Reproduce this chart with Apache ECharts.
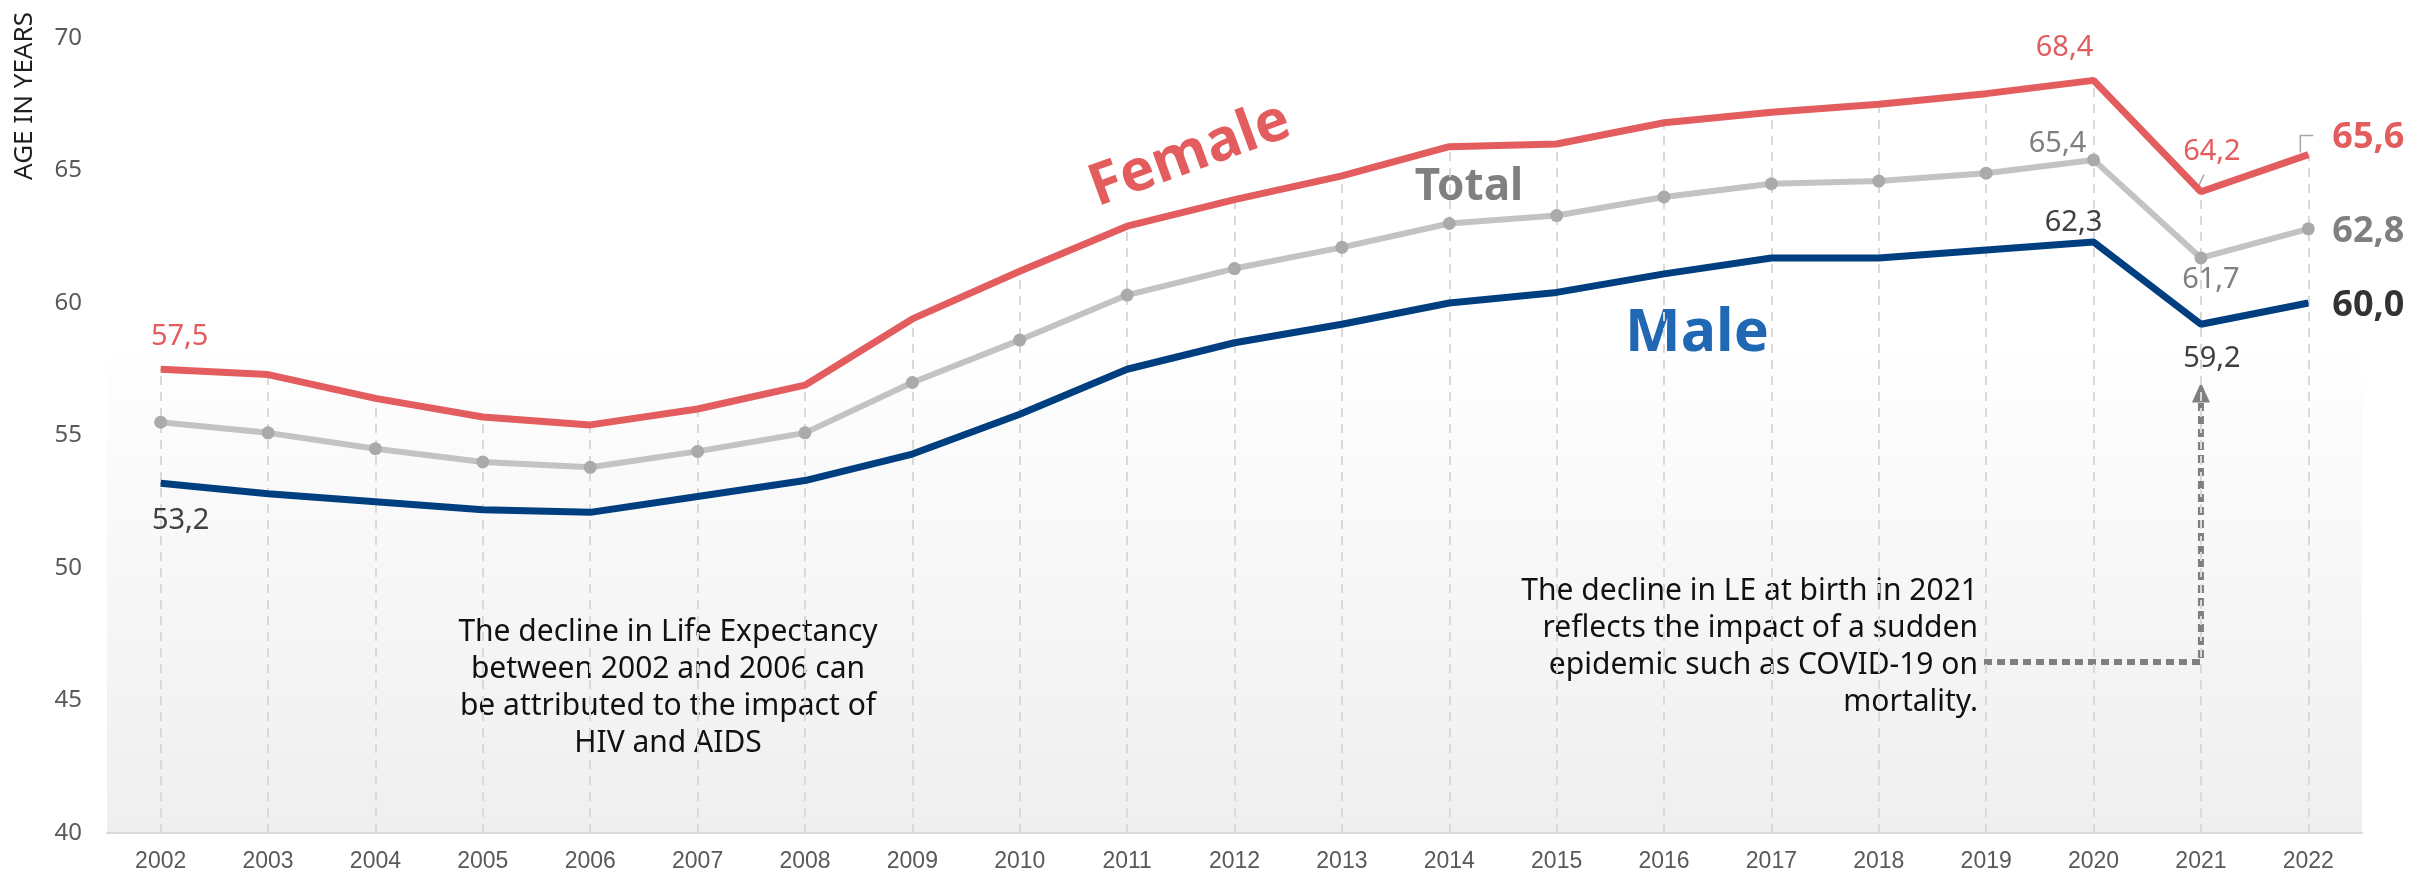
<!DOCTYPE html>
<html>
<head>
<meta charset="utf-8">
<script src="https://cdn.jsdelivr.net/npm/echarts@6/dist/echarts.min.js"></script>
<style>
html,body{margin:0;padding:0;background:#fff;}
#c{width:2433px;height:874px;}
</style>
</head>
<body>
<div id="c"></div>
<script>
const years = ['2002','2003','2004','2005','2006','2007','2008','2009','2010','2011','2012','2013','2014','2015','2016','2017','2018','2019','2020','2021','2022'];
const female = [57.5,57.3,56.4,55.7,55.4,56.0,56.9,59.4,61.2,62.9,63.9,64.8,65.9,66.0,66.8,67.2,67.5,67.9,68.4,64.2,65.6];
const total  = [55.5,55.1,54.5,54.0,53.8,54.4,55.1,57.0,58.6,60.3,61.3,62.1,63.0,63.3,64.0,64.5,64.6,64.9,65.4,61.7,62.8];
const male   = [53.2,52.8,52.5,52.2,52.1,52.7,53.3,54.3,55.8,57.5,58.5,59.2,60.0,60.4,61.1,61.7,61.7,62.0,62.3,59.2,60.0];
const yTicks = [40,45,50,55,60,65,70];

const note1 = 'The decline in Life Expectancy\nbetween 2002 and 2006 can\nbe attributed to the impact of\nHIV and AIDS';
const note2 = 'The decline in LE at birth in 2021\nreflects the impact of a sudden\nepidemic such as COVID-19 on\nmortality.';

const RED = '#E35C5E', NAVY = '#003F7F', GRAY = '#C4C2C2';
const FONT = "'Noto Sans', 'Open Sans', sans-serif";
const fmt = v => v.toFixed(1).replace('.', ',');

// label placement per series: index -> [dx, dy, color, size, bold]
const femaleLabels = {0:[19,-33,RED,29,false], 18:[-29,-33,RED,29,false], 19:[11,-40,RED,29,false], 20:[60,-17,RED,36,true]};
const totalLabels  = {18:[-36,-16,'#808080',29,false], 19:[10,22,'#808080',29,false], 20:[60,3,'#7F7F7F',36,true]};
const maleLabels   = {0:[20,38,'#404040',29,false], 18:[-20,-19,'#404040',29,false], 19:[11,35,'#404040',29,false], 20:[60,3,'#333333',36,true]};

function build(values, labels){
  return values.map((v,i)=>{
    const l = labels[i];
    if(!l) return v;
    return {value:v, label:{show:true, position:'inside', offset:[l[0],l[1]], color:l[2], fontSize:l[3],
      fontWeight:l[4]?'bold':'normal', fontFamily:FONT, formatter: p => fmt(p.value)}};
  });
}

const chart = echarts.init(document.getElementById('c'));
chart.setOption({
  animation:false,
  backgroundColor:'#ffffff',
  grid:{left:107,right:71,top:38,bottom:41,containLabel:false},
  xAxis:{
    type:'category', data:years, boundaryGap:true,
    axisLine:{show:true,lineStyle:{color:'#D9D9D9',width:2}},
    axisTick:{show:false},
    axisLabel:{color:'#595959',fontSize:23,fontFamily:"'Liberation Sans', Arial, sans-serif",margin:17},
    splitLine:{show:false}
  },
  yAxis:{
    type:'value', min:yTicks[0], max:yTicks[yTicks.length-1], interval:5,
    axisLine:{show:false}, axisTick:{show:false}, splitLine:{show:false},
    axisLabel:{color:'#595959',fontSize:24,fontFamily:FONT,margin:25}
  },
  series:[
    {
      name:'Male', type:'line', data:build(male, maleLabels), z:3,
      lineStyle:{color:NAVY,width:7}, itemStyle:{color:NAVY},
      symbol:'circle', symbolSize:1, showSymbol:true,
      label:{show:false},
      markArea:{silent:true, z:0,
        itemStyle:{color:{type:'linear',x:0,y:0,x2:0,y2:1,colorStops:[{offset:0,color:'#FEFEFE'},{offset:1,color:'#EFEFEF'}]}},
        data:[[{yAxis:40},{yAxis:58}]]}
    },
    {
      name:'Total', type:'line', data:build(total, totalLabels), z:4,
      lineStyle:{color:GRAY,width:6}, itemStyle:{color:'#ABAAAA'},
      symbol:'circle', symbolSize:13, showSymbol:true,
      label:{show:false}
    },
    {
      name:'Female', type:'line', data:build(female, femaleLabels), z:5,
      lineStyle:{color:RED,width:7}, itemStyle:{color:RED},
      symbol:'circle', symbolSize:1, showSymbol:true,
      label:{show:false},
      markLine:{silent:true, symbol:['none','none'], z:1, label:{show:false},
        lineStyle:{color:'#D9D9D9',width:2,type:[9,7]},
        data: female.map((v,i)=>[{coord:[i,40]},{coord:[i,v]}])}
    }
  ]
});

const P = (x,y) => chart.convertToPixel({gridIndex:0},[x,y]);
const p21low = P(19, 46.45);
const p21tip = P(19, 57.0);
const pF21 = P(19, female[19]);
const pF22 = P(20, female[20]);

chart.setOption({
  graphic:[
    {type:'text', x:25, y:96, rotation:Math.PI/2,
      style:{text:'AGE IN YEARS', fill:'#1F1F1F', font:"26px "+FONT, textAlign:'center', textVerticalAlign:'middle'}},
    {type:'text', x:1190, y:155, rotation:20*Math.PI/180,
      style:{text:'Female', fill:RED, font:"bold 58px "+FONT, textAlign:'center', textVerticalAlign:'middle'}},
    {type:'text', x:1469, y:187,
      style:{text:'Total', fill:'#808080', font:"bold 44px "+FONT, textAlign:'center', textVerticalAlign:'middle'}},
    {type:'text', x:1697, y:334,
      style:{text:'Male', fill:'#2068B3', font:"bold 59px "+FONT, textAlign:'center', textVerticalAlign:'middle'}},
    {type:'text', x:668, y:688,
      style:{text:note1, fill:'#111111', font:"30px "+FONT, lineHeight:37, textAlign:'center', textVerticalAlign:'middle'}},
    {type:'text', x:1978, y:647,
      style:{text:note2, fill:'#111111', font:"30px "+FONT, lineHeight:37, textAlign:'right', textVerticalAlign:'middle'}},
    {type:'polyline', shape:{points:[[1984,p21low[1]],[p21low[0],p21low[1]],[p21low[0],p21tip[1]+18]]},
      style:{stroke:'#7F7F7F',lineWidth:6,lineDash:[8,5],fill:null}},
    {type:'polygon', shape:{points:[[p21low[0],p21tip[1]],[p21low[0]-9,p21tip[1]+20],[p21low[0]+9,p21tip[1]+20]]},
      style:{fill:'#7F7F7F'}},
    {type:'line', shape:{x1:pF21[0]-5,y1:pF21[1],x2:pF21[0]+3,y2:pF21[1]-17},
      style:{stroke:'#A6A6A6',lineWidth:1.5}},
    {type:'polyline', shape:{points:[[pF22[0]-8,pF22[1]-2],[pF22[0]-8,pF22[1]-19],[pF22[0]+5,pF22[1]-19]]},
      style:{stroke:'#A6A6A6',lineWidth:1.5,fill:null}}
  ]
});
</script>
</body>
</html>
